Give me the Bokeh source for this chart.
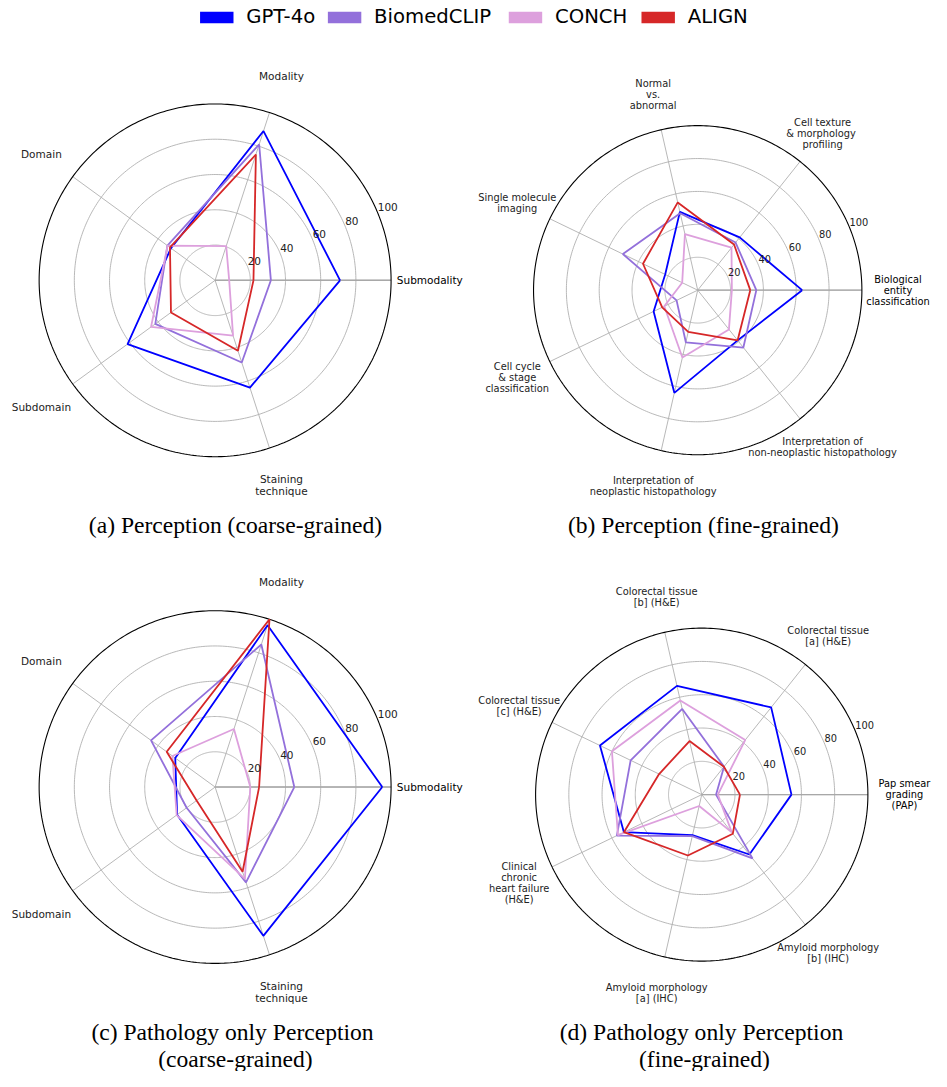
import numpy as np
from bokeh.plotting import figure
from bokeh.models import Range1d
from bokeh.core.properties import value
from bokeh.embed import file_html
from bokeh.resources import INLINE

# ---------------- data ----------------
models = ["GPT-4o", "BiomedCLIP", "CONCH", "ALIGN"]
colors = ["#0000ff", "#9370db", "#dda0dd", "#d62728"]
ticks = [20, 40, 60, 80, 100]

a_labels = ["Submodality", "Modality", "Domain", "Subdomain", "Staining\ntechnique"]
a_gpt = [71, 89, 31, 61.5, 64]
a_biomed = [31.7, 81, 33.5, 42, 49]
a_conch = [8, 20.4, 33.4, 45, 33]
a_align = [21.8, 75, 31.7, 31, 42]

b_labels = ["Biological\nentity\nclassification", "Cell texture\n&  morphology\nprofiling",
            "Normal\nvs.\nabnormal", "Single molecule\nimaging",
            "Cell cycle\n& stage\nclassification", "Interpretation of\nneoplastic histopathology",
            "Interpretation of\nnon-neoplastic histopathology"]
b_gpt = [63.6, 41, 48.8, 22, 29.8, 64, 39]
b_biomed = [35.7, 37, 48, 50.6, 14.3, 32.5, 44.6]
b_conch = [20.8, 33, 35, 10.5, 22.6, 42, 30.5]
b_align = [32, 35.5, 54.7, 37, 24, 26, 39]

c_labels = ["Submodality", "Modality", "Domain", "Subdomain", "Staining\ntechnique"]
c_gpt = [95, 96.5, 28, 26.7, 88.7]
c_biomed = [45, 85, 45, 20, 56.8]
c_conch = [20, 34.6, 30, 27, 54.8]
c_align = [25, 100, 34, 13, 50.5]

d_labels = ["Pap smear\ngrading\n(PAP)", "Colorectal tissue\n[a] (H&E)", "Colorectal tissue\n[b] (H&E)",
            "Colorectal tissue\n[c] (H&E)", "Clinical\nchronic\nheart failure\n(H&E)",
            "Amyloid morphology\n[a] (IHC)", "Amyloid morphology\n[b] (IHC)"]
d_gpt = [54, 67, 67, 68, 52, 25, 46]
d_biomed = [8.6, 21.5, 52.8, 47.5, 56.7, 25.5, 49]
d_conch = [9.7, 42, 58, 60, 56, 7, 29]
d_align = [23, 21.4, 33, 28.5, 52, 37.5, 30]

titles = [["(a) Perception (coarse-grained)"],
          ["(b) Perception (fine-grained)"],
          ["(c)  Pathology only Perception", "(coarse-grained)"],
          ["(d)  Pathology only Perception", "(fine-grained)"]]

# ---------------- layout ----------------
W, H = 931, 1071
REF_W, REF_H = 947, 1087
k = W / REF_W  # font scale

p = figure(width=W, height=H, x_range=Range1d(0, REF_W), y_range=Range1d(REF_H, 0),
           output_backend="svg", toolbar_location=None, min_border=0)
p.axis.visible = False
p.grid.visible = False
p.outline_line_color = None
p.background_fill_color = "white"

charts = [
    dict(cx=218.3, cy=284.0, R=179.0, labels=a_labels, data=[a_gpt, a_biomed, a_conch, a_align], fs=10.7,
         title_x=239, title_y=[532]),
    dict(cx=709.2, cy=294.0, R=167.0, labels=b_labels, data=[b_gpt, b_biomed, b_conch, b_align], fs=10.0,
         title_x=715, title_y=[532]),
    dict(cx=218.3, cy=798.3, R=179.0, labels=c_labels, data=[c_gpt, c_biomed, c_conch, c_align], fs=10.7,
         title_x=239, title_y=[1047, 1074]),
    dict(cx=713.3, cy=806.0, R=169.0, labels=d_labels, data=[d_gpt, d_biomed, d_conch, d_align], fs=10.0,
         title_x=716, title_y=[1047, 1074]),
]

def polar(c, v, ang):
    v = np.asarray(v, dtype=float)
    return c["cx"] + c["R"] * v / 100.0 * np.cos(ang), c["cy"] - c["R"] * v / 100.0 * np.sin(ang)

circ = np.linspace(0, 2 * np.pi, 361)
for ci, c in enumerate(charts):
    n = len(c["labels"])
    angs = np.arange(n) * 2 * np.pi / n
    fs = c["fs"] * k
    # rings
    for t in ticks[:-1]:
        x, y = polar(c, np.full_like(circ, t), circ)
        p.line(x, y, line_color="#b0b0b0", line_width=0.9)
    # spokes
    x1, y1 = polar(c, np.full(n, 100.0), angs)
    x0 = np.full(n, c["cx"]); y0 = np.full(n, c["cy"])
    p.segment(x0, y0, x1, y1, line_color="#b0b0b0", line_width=0.9)
    p.segment([c["cx"]], [c["cy"]], [x1[0]], [y1[0]], line_color="#a8a8a8", line_width=1.4)
    # outer circle
    x, y = polar(c, np.full_like(circ, 100.0), circ)
    p.line(x, y, line_color="black", line_width=1.1)
    # series
    for vals, col in zip(c["data"], colors):
        vv = list(vals) + [vals[0]]
        aa = list(angs) + [angs[0]]
        x, y = polar(c, vv, np.array(aa))
        p.line(x, y, line_color=col, line_width=1.8)
    # tick labels
    ta = np.deg2rad(22.5)
    tx, ty = polar(c, np.array(ticks, dtype=float), np.full(len(ticks), ta))
    p.text(tx, ty, text=[str(t) for t in ticks], text_align="left", text_baseline="bottom",
           y_offset=-1.5, text_font=value("DejaVu Sans"), text_font_size=f"{fs:.2f}px",
           text_color="#222222")
    # axis labels
    lx, ly = polar(c, np.full(n, 122.0), angs)
    lab_colors = ["#000000"] + ["#222222"] * (n - 1)
    p.text(lx, ly, text=c["labels"], text_align="center", text_baseline="middle",
           text_font=value("DejaVu Sans"), text_font_size=f"{fs:.2f}px", text_color=lab_colors,
           text_line_height=1.0)
    # title
    p.text([c["title_x"]] * len(c["title_y"]), c["title_y"], text=titles[ci], text_align="center",
           text_baseline="middle", text_font=value("Liberation Serif"),
           text_font_size=f"{24 * k:.2f}px", text_color="black")

# legend
leg_x = [203, 333, 517, 652]
for lx_, name, col in zip(leg_x, models, colors):
    p.quad(left=[lx_], right=[lx_ + 34], top=[11.5], bottom=[23], fill_color=col, line_color=None)
    p.text([lx_ + 47], [16.5], text=[name], text_align="left", text_baseline="middle",
           text_font=value("DejaVu Sans"), text_font_size=f"{20 * k:.2f}px", text_color="black")

open("out.html", "w").write(file_html(p, INLINE))
